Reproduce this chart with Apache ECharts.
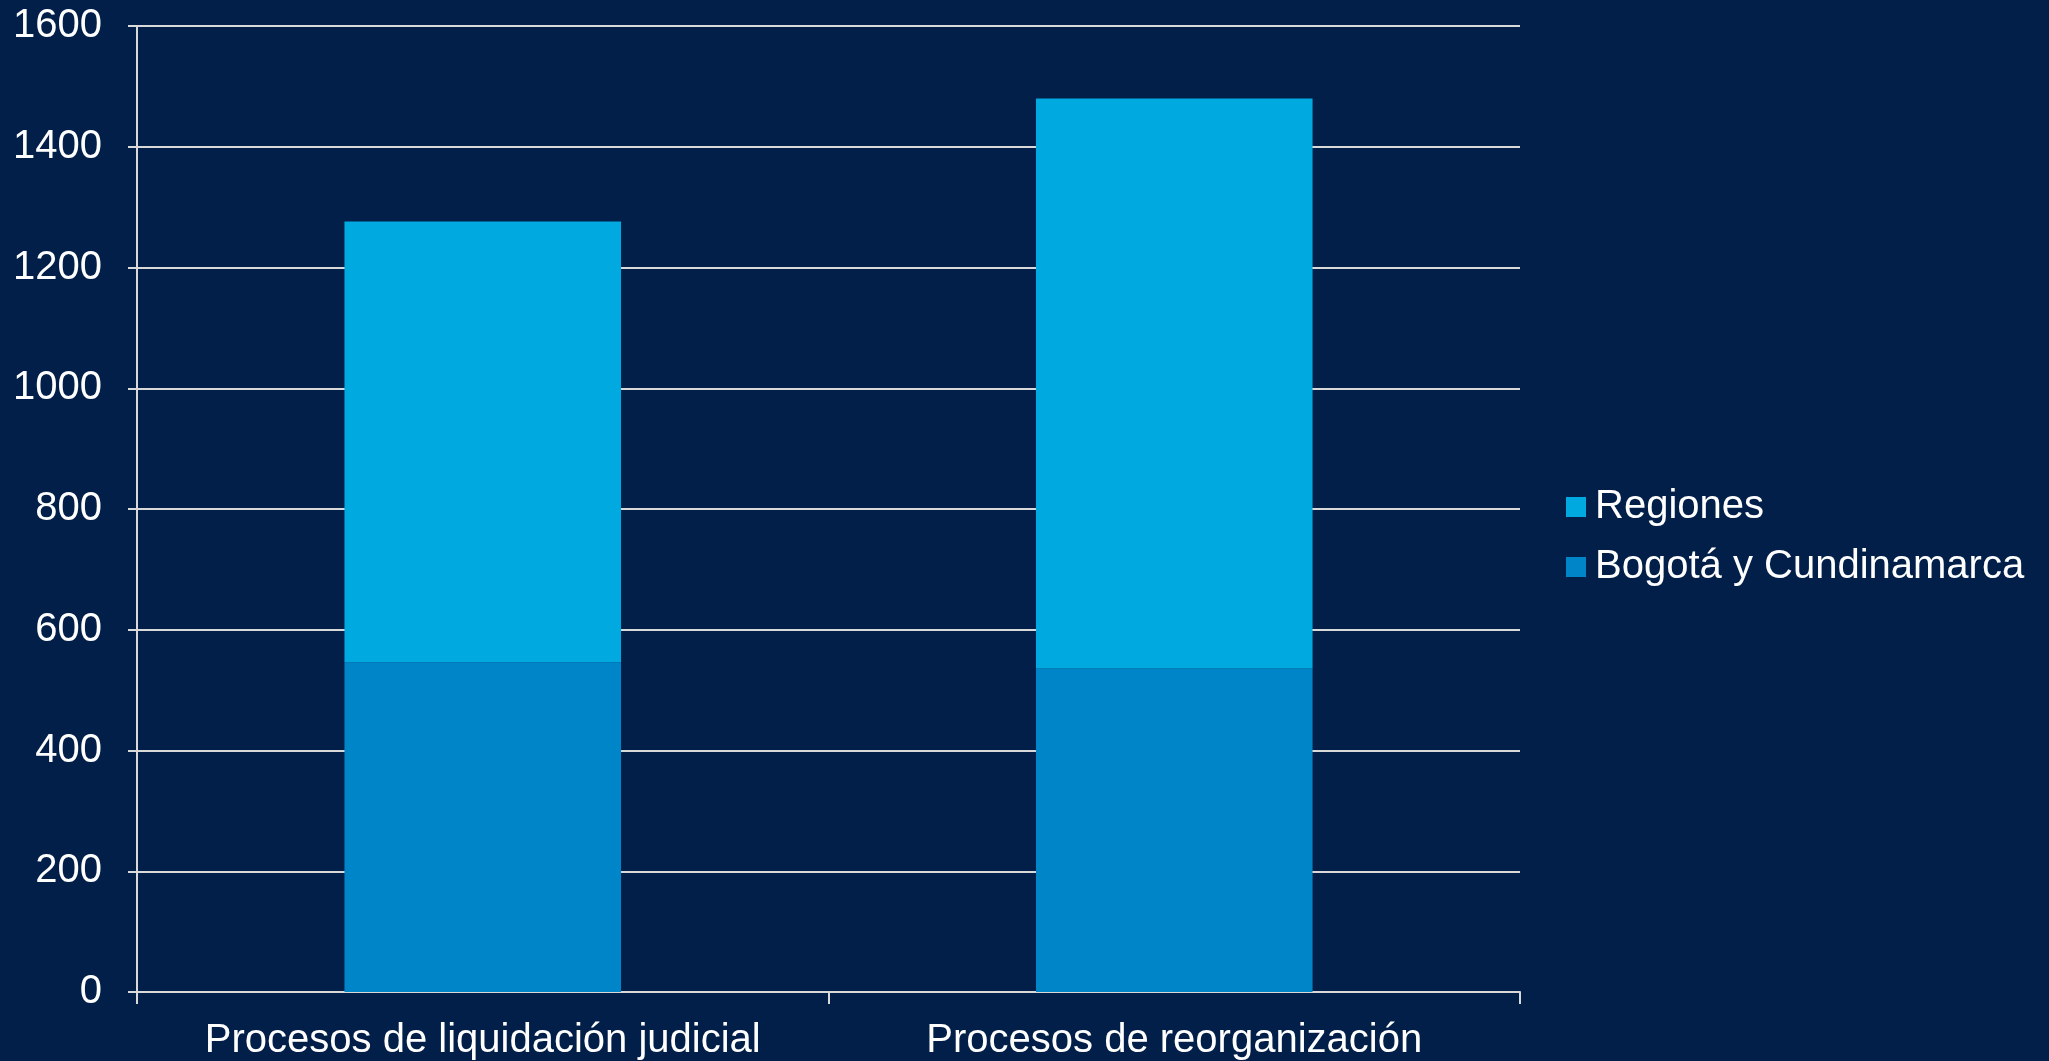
<!DOCTYPE html>
<html>
<head>
<meta charset="utf-8">
<script src="https://cdn.jsdelivr.net/npm/echarts@6/dist/echarts.min.js"></script>
<style>
html,body{margin:0;padding:0;background:#011f48;}
#chart{width:2049px;height:1061px;}
</style>
</head>
<body>
<div id="chart"></div>
<script>
const categories = ['Procesos de liquidación judicial', 'Procesos de reorganización'];
const bogota = [546, 536];
const regiones = [730, 944];
const yTicks = { min: 0, max: 1600, interval: 200 };

const chart = echarts.init(document.getElementById('chart'));
const font = 'Liberation Sans, Arial, sans-serif';
chart.setOption({
  backgroundColor: '#011f48',
  animation: false,
  grid: { left: 137, right: 529, top: 26, bottom: 69, containLabel: false },
  legend: {
    orient: 'vertical',
    left: 1566,
    top: 485,
    padding: 0,
    itemWidth: 20,
    itemHeight: 20,
    itemGap: 16,
    icon: 'rect',
    data: ['Regiones', 'Bogotá y Cundinamarca'],
    textStyle: { color: '#ffffff', fontSize: 40, fontFamily: font, lineHeight: 44, padding: [0, 0, 0, 4] }
  },
  xAxis: {
    type: 'category',
    data: categories,
    axisLine: { lineStyle: { color: '#d9d9d9', width: 2 } },
    axisTick: { show: true, interval: 0, length: 12, lineStyle: { color: '#d9d9d9', width: 2 } },
    axisLabel: { color: '#ffffff', fontSize: 40, fontFamily: font, margin: 29, interval: 0, hideOverlap: false },
    splitLine: { show: false }
  },
  yAxis: {
    type: 'value',
    min: yTicks.min, max: yTicks.max, interval: yTicks.interval,
    axisLine: { show: true, lineStyle: { color: '#d9d9d9', width: 2 } },
    axisTick: { show: true, length: 9, lineStyle: { color: '#d9d9d9', width: 2 } },
    axisLabel: { color: '#ffffff', fontSize: 40, fontFamily: font, margin: 35, formatter: v => String(v) },
    splitLine: { show: true, lineStyle: { color: '#d9d9d9', width: 2 } }
  },
  series: [
    {
      name: 'Bogotá y Cundinamarca', type: 'bar', stack: 'total',
      data: bogota, barWidth: '40%',
      itemStyle: { color: '#0085c9' }
    },
    {
      name: 'Regiones', type: 'bar', stack: 'total',
      data: regiones, barWidth: '40%',
      itemStyle: { color: '#00aae0' }
    }
  ]
});
</script>
</body>
</html>
